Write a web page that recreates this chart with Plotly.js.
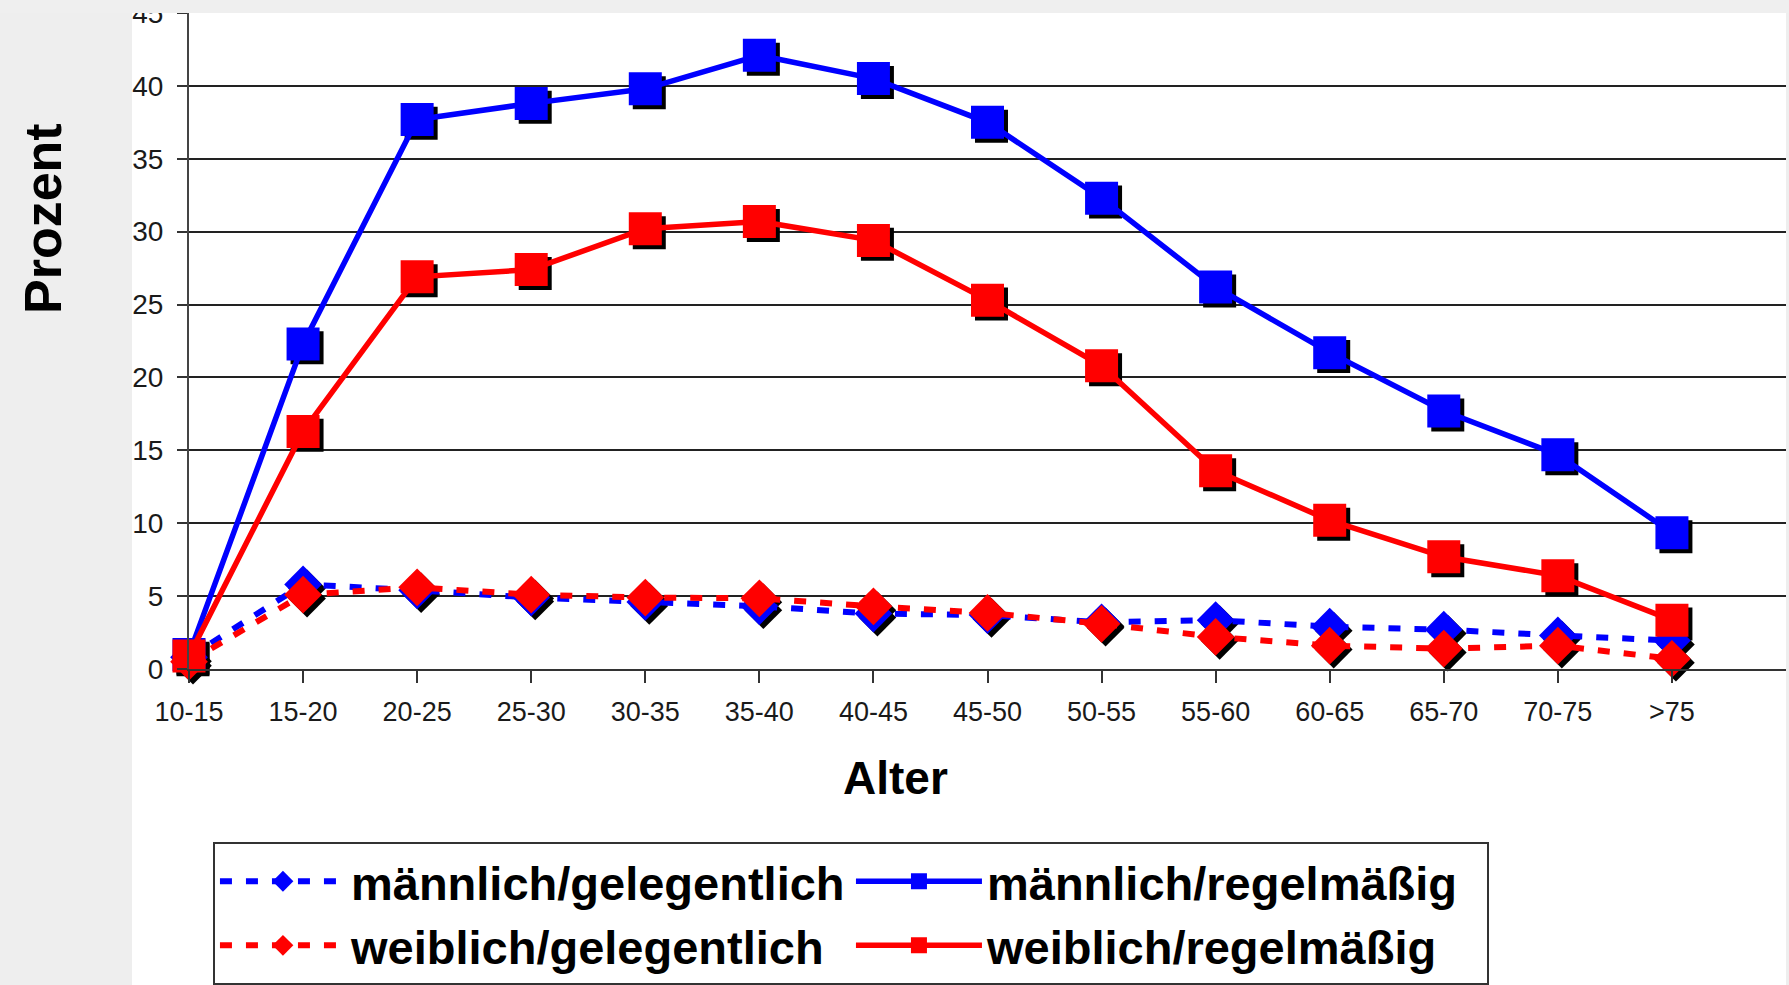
<!DOCTYPE html>
<html>
<head>
<meta charset="utf-8">
<script src="https://cdn.plot.ly/plotly-3.0.1.min.js"></script>
<style>
  html, body { margin: 0; padding: 0; background: #eeeeee; }
  #chart { width: 1789px; height: 985px; }
</style>
</head>
<body>
<div id="chart"></div>
<script>
// ---- data ----
const categories = ['10-15', '15-20', '20-25', '25-30', '30-35', '35-40', '40-45',
                    '45-50', '50-55', '55-60', '60-65', '65-70', '70-75', '>75'];
const maleOccasional   = [0.8, 5.8, 5.4, 4.9, 4.6, 4.3, 3.8, 3.7, 3.2, 3.35, 2.9, 2.7, 2.3, 1.95];
const maleRegular      = [1.0, 22.3, 37.7, 38.8, 39.8, 42.1, 40.5, 37.5, 32.3, 26.2, 21.7, 17.7, 14.7, 9.35];
const femaleOccasional = [0.5, 5.1, 5.6, 5.1, 4.9, 4.85, 4.3, 3.85, 3.1, 2.2, 1.6, 1.4, 1.6, 0.7];
const femaleRegular    = [0.9, 16.3, 26.9, 27.4, 30.2, 30.7, 29.4, 25.3, 20.8, 13.6, 10.2, 7.7, 6.4, 3.35];
const seriesNames = ['männlich/gelegentlich', 'männlich/regelmäßig',
                     'weiblich/gelegentlich', 'weiblich/regelmäßig'];
const yTicks = [0, 5, 10, 15, 20, 25, 30, 35, 40, 45];

// ---- styling ----
const BLUE = '#0000ff', RED = '#ff0000';
const FONT = 'Liberation Sans, Arial, sans-serif';

const series = [
  {y: maleOccasional,   name: seriesNames[0], color: BLUE, symbol: 'diamond', size: 29, dash: '12px,14px'},
  {y: maleRegular,      name: seriesNames[1], color: BLUE, symbol: 'square',  size: 33, dash: 'solid'},
  {y: femaleOccasional, name: seriesNames[2], color: RED,  symbol: 'diamond', size: 29, dash: '12px,14px'},
  {y: femaleRegular,    name: seriesNames[3], color: RED,  symbol: 'square',  size: 33, dash: 'solid'}
];

const traces = [];
// drop shadows: same data, drawn on a hidden base axis pair whose ranges are nudged
series.forEach(s => {
  traces.push({
    type: 'scatter', mode: 'markers', x: categories, y: s.y,
    xaxis: 'x', yaxis: 'y', showlegend: false, hoverinfo: 'skip', cliponaxis: false,
    marker: {symbol: s.symbol, size: s.size, color: '#000000', line: {width: 0}}
  });
});
series.forEach(s => {
  traces.push({
    type: 'scatter', mode: 'lines+markers', x: categories, y: s.y, name: s.name,
    xaxis: 'x2', yaxis: 'y2', cliponaxis: false,
    line: {color: s.color, width: s.dash === 'solid' ? 5.5 : 6, dash: s.dash},
    marker: {symbol: s.symbol, size: s.size, color: s.color, line: {width: 0}}
  });
});

const dx = 0.035, dy = 0.27;
const layout = {
  width: 1789, height: 985,
  margin: {l: 189, r: 3, t: 13, b: 316, autoexpand: false},
  paper_bgcolor: '#eeeeee',
  plot_bgcolor: 'rgba(0,0,0,0)',
  font: {family: FONT, color: '#1a1a1a'},
  showlegend: true,
  xaxis: {type: 'category', range: [-dx, categories.length - dx], visible: false, fixedrange: true},
  yaxis: {range: [yTicks[0] + dy, yTicks[yTicks.length - 1] + dy], visible: false, fixedrange: true},
  xaxis2: {
    type: 'category', overlaying: 'x', anchor: 'y2', range: [0, categories.length],
    showline: true, linecolor: '#333', linewidth: 2,
    ticks: 'outside', ticklen: 12, tickwidth: 2, tickcolor: '#333',
    showgrid: false, zeroline: false, ticklabelstandoff: 6,
    tickfont: {family: FONT, size: 27, color: '#1a1a1a'}, fixedrange: true
  },
  yaxis2: {
    overlaying: 'y', anchor: 'x2', side: 'left',
    range: [yTicks[0], yTicks[yTicks.length - 1]], tickvals: yTicks,
    showline: true, linecolor: '#444', linewidth: 2,
    ticks: 'outside', ticklen: 10, tickwidth: 2, tickcolor: '#333',
    showgrid: true, gridcolor: '#222', gridwidth: 2, zeroline: false,
    ticklabelstandoff: 8, ticklabeloverflow: 'allow',
    tickfont: {family: FONT, size: 28, color: '#1a1a1a'}, fixedrange: true
  },
  legend: {
    orientation: 'h', x: 0.015, xanchor: 'left', y: -0.264, yanchor: 'top',
    bgcolor: '#ffffff', bordercolor: '#333', borderwidth: 2,
    itemwidth: 126, entrywidth: 495,
    font: {family: FONT, size: 47, color: '#000', weight: 'bold'}
  },
  shapes: [
    // white chart body
    {type: 'rect', xref: 'paper', yref: 'paper', x0: -0.0357, x1: 1, y0: -0.6, y1: 1,
     fillcolor: '#ffffff', line: {width: 0}, layer: 'below'},
    // grey band that crops the top of the picture
    {type: 'rect', xref: 'paper', yref: 'paper', x0: -0.2, x1: 1.01, y0: 1.0, y1: 1.05,
     fillcolor: '#efefef', line: {width: 0}, layer: 'above'}
  ],
  annotations: [
    {text: 'Alter', xref: 'paper', yref: 'paper', x: 0.4427, y: -0.166,
     xanchor: 'center', yanchor: 'middle', showarrow: false,
     font: {family: FONT, size: 46, color: '#000', weight: 'bold'}},
    {text: 'Prozent', xref: 'paper', yref: 'paper', x: -0.0914, y: 0.686, textangle: -90,
     xanchor: 'center', yanchor: 'middle', showarrow: false,
     font: {family: FONT, size: 52, color: '#000', weight: 'bold'}}
  ]
};

Plotly.newPlot('chart', traces, layout, {displayModeBar: false, staticPlot: true});
</script>
</body>
</html>
